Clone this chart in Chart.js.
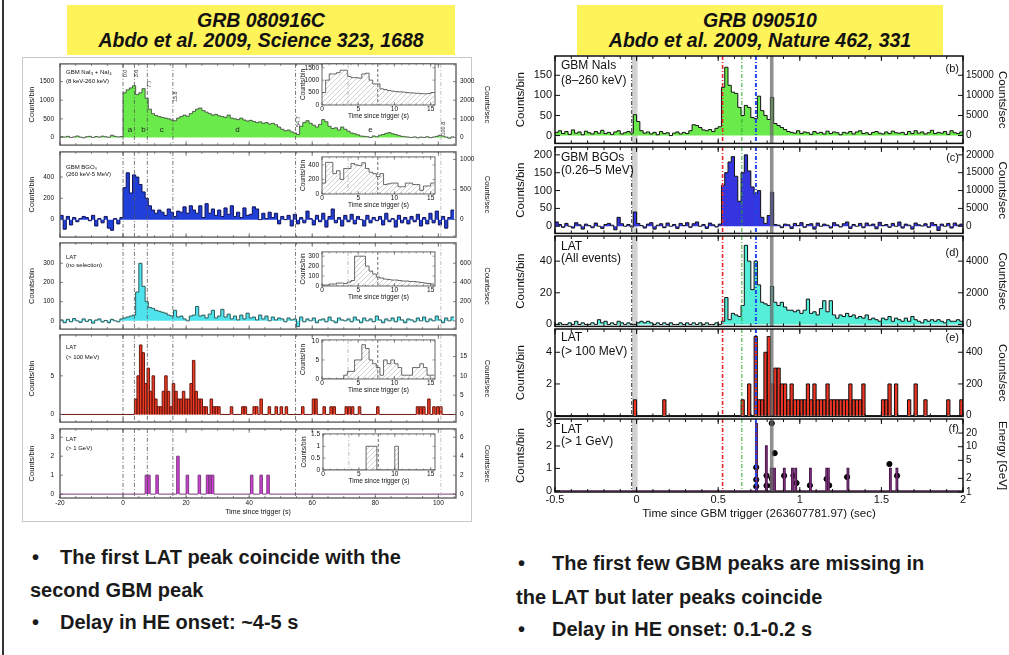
<!DOCTYPE html>
<html>
<head>
<meta charset="utf-8">
<script src="https://cdn.jsdelivr.net/npm/chart.js@4.4.0/dist/chart.umd.min.js"></script>
<style>
body{margin:0;width:1009px;height:655px;overflow:hidden;background:#fff;position:relative;font-family:'Liberation Sans',Arial,sans-serif}
canvas{position:absolute}
.box{position:absolute;background:#fff35a;text-align:center;font:italic bold 19.5px 'Liberation Sans Narrow','Liberation Sans',Arial,sans-serif;color:#111;line-height:20px;padding-top:5px;box-sizing:border-box}
.txt{position:absolute;font:bold 20px 'Liberation Sans',Arial,sans-serif;color:#1a1a1a;white-space:nowrap;line-height:24px}
</style>
</head>
<body>
<div style="position:absolute;left:2px;top:0;width:2px;height:655px;background:#333"></div>
<div style="position:absolute;left:22px;top:57px;width:448px;height:463px;border:1px solid #c8c8c8"></div>
<div class="box" style="left:67px;top:5px;width:388px;height:50px">GRB 080916C<br>Abdo et al. 2009, Science 323, 1688</div>
<div class="box" style="left:577px;top:5px;width:366px;height:50px">GRB 090510<br>Abdo et al. 2009, Nature 462, 331</div>

<div class="txt" style="left:32px;top:545px">•</div>
<div class="txt" style="left:60px;top:545px">The first LAT peak coincide with the</div>
<div class="txt" style="left:30px;top:578px">second GBM peak</div>
<div class="txt" style="left:32px;top:610px">•</div>
<div class="txt" style="left:60px;top:610px">Delay in HE onset: ~4-5 s</div>

<div class="txt" style="left:518px;top:551px">•</div>
<div class="txt" style="left:552px;top:551px">The first few GBM peaks are missing in</div>
<div class="txt" style="left:516px;top:585px">the LAT but later peaks coincide</div>
<div class="txt" style="left:518px;top:617px">•</div>
<div class="txt" style="left:552px;top:617px">Delay in HE onset: 0.1-0.2 s</div>

<script>
// ---------- GRB 080916C : 1 s bins starting at -20 s ----------
const leftT0 = -20, leftBin = 1;
const naiLeft = [20,10,30,0,15,40,10,-10,20,30,0,25,10,35,20,5,60,30,15,25,
  1200,1280,1330,1390,1150,1200,1310,1050,760,640,590,560,540,520,500,470,
  450,520,560,600,570,640,700,760,790,720,680,640,600,620,580,
  560,540,600,520,500,480,520,470,440,460,430,400,420,380,400,360,380,340,280,220,
  180,200,150,120,80,300,400,450,380,330,280,350,480,420,300,240,260,200,280,220,
  170,120,100,70,40,30,20,0,40,20,60,80,110,130,100,80,50,30,20,10,
  0,15,-10,10,0,20,-5,10,30,60,40,10,-20,15];
const bgoLeft = [40,-90,30,-50,20,-20,10,30,20,-10,40,-60,10,-30,30,-80,-100,10,-40,20,
  300,440,250,420,400,330,260,200,130,90,60,90,70,40,100,70,
  30,80,70,120,60,130,90,60,130,20,150,60,100,40,90,
  30,110,50,130,30,70,20,110,40,50,120,100,0,60,10,70,20,60,-40,30,
  0,40,-60,50,-40,20,-30,80,10,-50,40,-20,60,-70,30,100,-30,20,-60,40,
  -20,50,-40,30,0,-60,40,-30,20,-10,30,-50,60,-20,10,-70,40,-30,20,-40,
  30,-20,50,-60,20,-40,60,-30,80,-50,30,-80,20,90];
const latLeft = [5,-10,8,-5,12,0,-8,10,-3,6,-12,4,10,-6,2,-10,8,0,-5,10,
  15,20,25,30,150,300,180,100,70,65,55,50,45,40,30,25,
  55,20,25,10,0,25,30,75,25,30,15,35,55,15,25,
  60,20,35,10,25,5,30,10,40,15,20,5,30,10,25,0,20,5,15,10,
  -5,15,5,10,-30,20,-5,10,0,15,-10,5,10,-5,20,0,-10,15,5,0,
  10,-5,20,5,-10,15,0,10,-5,25,5,-10,10,0,15,-5,20,5,-10,10,
  5,-5,15,0,20,-5,10,0,25,5,-10,15,0,20];
// LAT > 100 MeV and > 1 GeV: bin start (s) and counts, 0.8 s bins
const evBin = 0.8;
const lat100T = [3.6,4.4,5.2,6.0,6.8,7.6,8.4,9.2,10.0,10.8,11.6,12.4,13.2,14.0,14.8,15.6,16.4,17.2,18.0,18.8,
  19.6,20.4,21.2,22.0,22.8,23.6,24.4,25.2,26.0,27.6,28.4,29.2,30.0,34.0,37.6,38.4,41.2,42.0,43.4,46.0,
  48.2,49.8,51.4,56.6,60.0,60.8,63.4,65.6,66.6,70.4,71.4,72.4,74.6,80.4,93.0,94.0,95.0,96.6,98.2,99.4,100.4];
const lat100N = [2,5,9,8,4,6,3,5,2,1,1,3,5,3,1,4,3,2,2,3,
  2,2,4,7,3,2,2,1,1,2,1,1,1,1,1,1,1,1,2,1,
  1,1,1,1,2,2,1,1,1,1,1,1,1,1,1,1,1,2,1,1,1];
const lat1gT = [7.0,7.8,10.4,17.0,20.0,23.8,26.4,27.2,28.0,40.4,43.4,45.6];
const lat1gN = [1,1,1,2,1,1,1,1,1,1,1,1];
// insets: 0.5 s bins from 0 s
const insBin = 0.5;
const insNai = [500,1000,1250,1250,1300,1400,1400,1150,1100,1100,1080,1250,1280,1000,850,850,650,620,580,560,540,530,520,500,490,480,470,460,450,460,500];
const insBgo = [150,435,435,280,320,200,350,350,420,400,390,430,350,300,280,240,280,130,140,150,150,100,100,150,150,130,130,50,110,110,150];
const insLat = [10,10,20,20,30,30,25,40,55,300,300,300,200,150,120,90,80,70,65,60,60,55,50,50,45,45,40,35,30,25,20];
const insLat100 = [0,0,0,0,0,0,1,2,2,5,5,9,8,5,4,3,1,5,4,5,4,3,1,1,1,3,3,4,3,1,1];
const insLat1g = [0,0,0,0,0,0,0,0,0,0,0,0,1,1,1,0,0,0,0,0,1,0,0,0,0,0,0,0,0,0,0];
const leftMarkT = [0, 3.6, 7.7, 15.8, 54.7];
const leftFaintT = 100.8;
const markNames = ['0.0','3.6','7.7','15.8','54.7','100.8'];
const markNameT = [0, 3.6, 7.7, 15.8, 54.7, 100.8];
const markNameY = [1615, 1615, 1333, 949, 282, 51];
const periodNames = ['a','b','c','d','e'];
const periodT = [2.2, 6.5, 12.3, 36.3, 78.5];

// ---------- GRB 090510 : 0.02 s bins starting at -0.5 s ----------
const rightT0 = -0.5, rightBin = 0.02;
const naiRight = [8,12,5,10,3,14,6,9,2,11,7,4,10,6,13,5,8,3,9,12,4,7,10,6,
  52,35,12,
  6,9,4,8,2,10,5,7,0,6,9,4,8,5,
  12,27,25,20,14,12,15,10,18,22,
  120,170,125,108,105,70,50,75,70,45,42,98,62,50,40,95,30,25,20,15,
  10,8,6,12,5,9,7,3,10,6,8,4,11,5,9,7,2,8,6,10,4,9,12,5,7,3,8,10,6,4,9,5,11,7,6,8,3,10,5,12,6,9,4,7,13,5,8,6,10,3,12,7,5,9];
const bgoRight = [12,5,-3,8,0,-5,10,4,-8,6,2,-4,9,0,-6,5,8,3,-10,25,7,0,5,-2,
  40,8,2,
  -5,6,10,-8,3,7,-4,9,0,5,-6,8,2,10,
  -3,7,12,0,5,-6,9,4,-2,6,
  115,150,180,195,140,70,150,200,155,110,90,100,25,8,30,95,5,3,-4,6,
  4,-6,8,2,10,-3,5,7,-8,9,0,6,3,-5,10,4,-2,7,12,-6,5,0,8,-4,9,3,6,-7,11,2,5,-3,8,0,12,-5,6,3,-8,9,4,1,7,-3,10,5,-12,6,0,8,-5,9,3,6];
const latRight = [0,1,0,0,1,0,2,0,1,0,0,1,0,3,1,2,0,1,0,2,1,0,1,0,
  0,1,2,
  1,2,1,0,1,0,1,0,1,0,0,1,0,1,
  0,1,0,1,0,1,0,0,1,0,
  2,17,3,7,6,5,12,50,40,22,40,25,14,13,12,24,14,12,14,11,
  9,9,8,9,7,9,16,7,8,6,10,15,8,15,6,4,6,5,7,5,6,4,5,4,6,3,4,3,2,4,3,5,2,4,3,2,4,2,5,3,2,1,3,2,3,2,3,2,1,3,2,2,3,2];
const rHeT = [-0.02,0.16,0.64,0.68,0.72,0.74,0.76,0.78,0.80,0.82,0.84,0.86,0.88,0.90,0.92,0.94,0.96,0.98,1.00,1.02,
  1.04,1.06,1.08,1.10,1.12,1.14,1.16,1.18,1.20,1.22,1.24,1.26,1.28,1.30,1.32,1.34,1.36,1.38,1.50,1.52,
  1.54,1.58,1.66,1.70,1.76,1.90,1.98];
const rHeN = [1,1,1,2,5,1,1,4,5,2,3,3,2,2,1,2,1,1,1,1,
  2,1,2,1,1,1,2,1,1,1,1,1,1,2,1,1,1,2,1,1,
  2,2,1,2,1,1,1];
const rGevBin = 0.01;
const rGevT = [0.73,0.79,0.82,0.83,0.84,0.90,0.95,0.97,1.06,1.16,1.17,1.29,1.55,1.59];
const rGevN = [3,2,1,1,1,1,1,1,1,1,1,1,1,1];
const photonT = [0.733,0.733,0.733,0.796,0.796,0.828,0.828,0.828,0.846,0.904,0.961,0.98,1.062,1.164,1.18,1.29,1.549,1.596];
const photonE = [3.5,1.87,1.33,2.29,1.38,33,1.97,1.38,7.2,2.29,2.3,1.58,1.4,1.94,1.4,2.14,4.15,2.29];

const FONT = "'Liberation Sans', Arial, sans-serif";
Chart.defaults.font.family = FONT;
Chart.defaults.color = '#111';
const DD = [4, 2, 1, 2];

// histogram points, value holds from bin start to next point
function hist(t0, w, vals) {
  const pts = vals.map((v, i) => ({x: t0 + i * w, y: v}));
  pts.push({x: t0 + vals.length * w, y: vals[vals.length - 1]});
  return pts;
}
function events(ts, ns, w, xmin, xmax) {
  const pts = [{x: xmin, y: 0}];
  ts.forEach((t, i) => { pts.push({x: t, y: ns[i]}, {x: t + w, y: 0}); });
  pts.push({x: xmax, y: 0});
  return pts;
}
function hd(pts, fill, line, w) {
  return {data: pts, stepped: true, fill: 'origin', backgroundColor: fill, borderColor: line, borderWidth: w, pointRadius: 0};
}

const hatch = (() => {
  const c = document.createElement('canvas'); c.width = 5; c.height = 5;
  const g = c.getContext('2d');
  g.strokeStyle = '#c4c4c4'; g.lineWidth = 0.8;
  g.beginPath(); g.moveTo(0, 5); g.lineTo(5, 0); g.stroke();
  return g.createPattern(c, 'repeat');
})();

// frame, inner ticks, marker lines, bands and labels
const deco = {
  id: 'deco',
  beforeDatasetsDraw(ch, a, o) {
    const ctx = ch.ctx, ca = ch.chartArea, sx = ch.scales.x;
    ctx.save();
    if (o.bg) { ctx.fillStyle = o.bg; ctx.fillRect(ca.left, ca.top, ca.width, ca.height); }
    (o.bands || []).filter(b => !b.front).forEach(b => {
      const p0 = sx.getPixelForValue(b.x0), p1 = sx.getPixelForValue(b.x1);
      ctx.fillStyle = b.color; ctx.fillRect(p0, ca.top, p1 - p0, ca.height);
    });
    ctx.restore();
  },
  afterDatasetsDraw(ch, a, o) {
    const ctx = ch.ctx, ca = ch.chartArea, sx = ch.scales.x, sy = ch.scales.y;
    ctx.save();
    ctx.beginPath(); ctx.rect(ca.left, ca.top, ca.width, ca.height); ctx.clip();
    (o.bands || []).filter(b => b.front).forEach(b => {
      const p0 = sx.getPixelForValue(b.x0), p1 = sx.getPixelForValue(b.x1);
      ctx.fillStyle = b.color; ctx.fillRect(p0, ca.top, p1 - p0, ca.height);
    });
    (o.lines || []).forEach(l => {
      const p = sx.getPixelForValue(l.x);
      ctx.strokeStyle = l.color; ctx.lineWidth = l.width; ctx.setLineDash(l.dash || []);
      ctx.beginPath(); ctx.moveTo(p, ca.top); ctx.lineTo(p, ca.bottom); ctx.stroke();
    });
    ctx.setLineDash([]);
    (o.texts || []).forEach(tx => {
      let px, py;
      if (tx.t !== undefined) { px = sx.getPixelForValue(tx.t) + (tx.ox || 0); py = sy.getPixelForValue(tx.v); }
      else { px = tx.right ? ca.right - tx.dx : ca.left + tx.dx; py = ca.top + tx.dy; }
      ctx.font = (tx.weight || 'normal') + ' ' + tx.size + 'px ' + FONT;
      ctx.fillStyle = tx.color || '#111';
      ctx.textAlign = tx.align || 'left'; ctx.textBaseline = 'middle';
      if (tx.rot) { ctx.save(); ctx.translate(px, py); ctx.rotate(-Math.PI / 2); ctx.fillText(tx.text, 0, 0); ctx.restore(); }
      else ctx.fillText(tx.text, px, py);
    });
    ctx.restore();
    // frame and inward ticks
    const f = o.frame;
    ctx.save();
    ctx.strokeStyle = f.color; ctx.lineWidth = f.width;
    ctx.strokeRect(ca.left, ca.top, ca.width, ca.height);
    ctx.lineWidth = f.tickWidth || 0.8;
    ctx.beginPath();
    (f.xSteps || []).forEach(([step, len]) => {
      const i0 = Math.ceil(sx.min / step - 1e-6), i1 = Math.floor(sx.max / step + 1e-6);
      for (let i = i0; i <= i1; i++) {
        const p = sx.getPixelForValue(i * step);
        ctx.moveTo(p, ca.bottom); ctx.lineTo(p, ca.bottom - len);
        ctx.moveTo(p, ca.top); ctx.lineTo(p, ca.top + len);
      }
    });
    if (f.yLen) {
      sy.ticks.forEach(t => { const p = sy.getPixelForValue(t.value); ctx.moveTo(ca.left, p); ctx.lineTo(ca.left + f.yLen, p); });
      const s2 = ch.scales.y2 || sy;
      s2.ticks.forEach(t => { const p = s2.getPixelForValue(t.value); ctx.moveTo(ca.right, p); ctx.lineTo(ca.right - f.yLen, p); });
    }
    ctx.stroke();
    ctx.restore();
  }
};
Chart.register(deco);

function panel(o) {
  const [x0, y0, x1, y1] = o.area;
  const lw = o.lw, rw = o.rw || 0, tp = o.tp || 10, bh = o.bh || 10, pr = o.pr || 0;
  const W = x1 - x0 + lw + rw + pr, H = y1 - y0 + tp + bh;
  const cv = document.createElement('canvas');
  cv.width = W; cv.height = H;
  cv.style.left = (x0 - lw) + 'px'; cv.style.top = (y0 - tp) + 'px';
  cv.style.width = W + 'px'; cv.style.height = H + 'px';
  document.body.appendChild(cv);
  const fix = vals => s => { s.ticks = vals.map(v => ({value: v})); };
  const tf = {size: o.fs};
  const noGrid = {display: false, drawTicks: false};
  const scales = {
    x: {type: 'linear', position: 'bottom', min: o.x[0], max: o.x[1],
      grid: noGrid, border: {display: false},
      afterBuildTicks: fix(o.xt), afterFit: s => { s.height = bh; },
      ticks: {display: !!o.xlab, font: tf, padding: o.xpad || 1, maxRotation: 0, autoSkip: false, color: '#111', callback: v => String(v)},
      title: o.xtitle ? {display: true, text: o.xtitle, font: {size: o.xts}, color: '#111', padding: {top: 0, bottom: o.xtp}} : {display: false}},
    y: {type: 'linear', position: 'left', min: o.y[0], max: o.y[1],
      grid: noGrid, border: {display: false},
      afterBuildTicks: fix(o.yt), afterFit: s => { s.width = lw; },
      ticks: {font: tf, padding: o.ypad || 3, autoSkip: false, color: '#111', callback: v => String(v)},
      title: {display: !!o.ytitle, text: o.ytitle, font: {size: o.yts}, color: '#111', padding: {top: o.ytp, bottom: 0}}}
  };
  if (o.y2) {
    scales.y2 = {type: o.y2.type || 'linear', position: 'right', min: o.y2.range[0], max: o.y2.range[1],
      grid: noGrid, border: {display: false},
      afterBuildTicks: fix(o.y2.ticks), afterFit: s => { s.width = rw; },
      ticks: {font: {size: o.fs2 || o.fs}, padding: o.y2pad || 3, autoSkip: false, color: '#111', callback: v => String(v)},
      title: {display: true, text: o.y2.title, font: {size: o.yts}, color: '#111', padding: {top: o.y2tp, bottom: 0}}};
  }
  return new Chart(cv, {
    type: 'line',
    data: {datasets: o.ds},
    options: {
      responsive: false, animation: false, events: [],
      layout: {padding: {top: tp, right: pr, left: 0, bottom: 0}},
      plugins: {legend: {display: false}, tooltip: {enabled: false}, deco: o.deco},
      scales
    }
  });
}

// ---------- left figure ----------
const LX = [-20, 105.6];
const leftLines = leftMarkT.map(t => ({x: t, color: '#555', width: 0.8, dash: DD}))
  .concat([{x: leftFaintT, color: '#b0b0b0', width: 0.8, dash: DD}]);
const leftFrame = {color: '#555', width: 1.3, tickWidth: 0.7, xSteps: [[5, 2], [20, 4]], yLen: 3};
function leftPanel(area, yr, yt, k, y2t, ds, texts, last) {
  return panel({area, lw: 40, rw: 36, tp: 8, bh: last ? 22 : 8, fs: 6.5,
    x: LX, xt: [-20, 0, 20, 40, 60, 80, 100], xlab: last, xpad: 1, xtitle: last ? 'Time since trigger (s)' : null, xts: 7, xtp: 3.5,
    y: yr, yt, ypad: 6, ytitle: 'Counts/bin', yts: 7.5, ytp: 7.5,
    y2: {range: [yr[0] * k, yr[1] * k], ticks: y2t, title: 'Counts/sec'}, y2pad: 4, y2tp: 0.5,
    ds, deco: {lines: leftLines, texts, frame: leftFrame}});
}
const lab = (dx, dy, text, size) => ({dx, dy, text, size: size || 6});

leftPanel([60, 62, 456, 147], [-205, 1975], [0, 500, 1000, 1500], 2, [0, 1000, 2000, 3000],
  [hd(hist(leftT0, leftBin, naiLeft), '#6BEA4B', '#3a3a3a', 0.8)],
  [lab(6, 8, 'GBM NaI₃ + NaI₄'), lab(6, 17, '(8 keV-260 keV)')]
    .concat(markNames.map((n, i) => ({t: markNameT[i], v: markNameY[i], ox: 2.5, text: n, size: 5.5, rot: true, align: 'left', color: '#333'})))
    .concat(periodNames.map((n, i) => ({t: periodT[i], v: 205, text: n, size: 8, align: 'center', color: '#222'}))), false);
leftPanel([60, 150, 456, 239], [-164, 636], [0, 200, 400], 1.77, [0, 500, 1000],
  [hd(hist(leftT0, leftBin, bgoLeft), '#1F3FD8', '#101058', 1)],
  [lab(6, 15, 'GBM BGO₀'), lab(6, 22, '(260 keV-5 MeV)')], false);
leftPanel([60, 241, 456, 331], [-43, 406], [0, 100, 200, 300], 2, [0, 200, 400, 600],
  [hd(hist(leftT0, leftBin, latLeft), '#4FE3EE', '#2c5a5a', 1)],
  [lab(6, 14, 'LAT'), lab(6, 22, '(no selection)')], false);
leftPanel([60, 333, 456, 424], [-0.99, 10.3], [0, 5], 2, [0, 5, 10, 15],
  [hd(events(lat100T, lat100N, evBin, -20, 105.6), '#EE3A22', '#6b1a12', 1)],
  [lab(6, 12, 'LAT'), lab(6, 22, '(> 100 MeV)')], false);
leftPanel([60, 427, 456, 498], [-0.205, 3.44], [0, 1, 2, 3], 2, [0, 2, 4, 6],
  [hd(events(lat1gT, lat1gN, evBin, -20, 105.6), '#D040D8', '#7a3a7a', 1)],
  [lab(6, 10, 'LAT'), lab(6, 19, '(> 1 GeV)')], true);

// insets
const insLines = [{x: 3.6, color: '#aaa', width: 0.8, dash: DD}, {x: 7.7, color: '#444', width: 0.8, dash: [3, 2]}];
function inset(area, ymax, yt, vals) {
  return panel({area, lw: 24, rw: 0, pr: 4, tp: 6, bh: 20, fs: 6.5,
    x: [0, 15.6], xt: [0, 5, 10, 15], xlab: true, xpad: 0.5, xtitle: 'Time since trigger (s)', xts: 6.5, xtp: 5,
    y: [0, ymax], yt, ypad: 3, ytitle: 'Counts/bin', yts: 6.5, ytp: 1.2,
    ds: [hd(hist(0, insBin, vals), hatch, '#444', 0.8)],
    deco: {bg: '#fff', lines: insLines, frame: {color: '#555', width: 0.9, tickWidth: 0.6, xSteps: [[1, 1.5], [5, 3]], yLen: 2.5}}});
}
inset([322, 63, 435, 105], 1654, [0, 500, 1000, 1500], insNai);
inset([322, 156, 435, 194], 510, [0, 200, 400], insBgo);
inset([322, 251, 435, 286], 343, [0, 100, 200, 300], insLat);
inset([322, 339, 435, 379], 10.26, [0, 5, 10], insLat100);
inset([323, 433, 435, 470], 1.52, [0, 0.5, 1, 1.5], insLat1g);

// ---------- right figure ----------
const RX = [-0.5, 2];
const rightBands = [{x0: -0.028, x1: 0.006, color: '#d2d2d2'}, {x0: 0.817, x1: 0.839, color: 'rgba(105,105,105,0.75)', front: true}];
const rightLines = [
  {x: -0.03, color: '#333', width: 1, dash: DD},
  {x: 0.527, color: '#e8282a', width: 1.6, dash: DD},
  {x: 0.645, color: '#2aa82a', width: 1, dash: DD},
  {x: 0.731, color: '#2244ee', width: 2, dash: DD}];
const rightFrame = {color: '#111', width: 1.5, tickWidth: 1, xSteps: [[0.1, 3], [0.5, 5]], yLen: 5};
function rightPanel(area, yr, yt, y2, ds, texts, last) {
  return panel({area, lw: 46, rw: 46, tp: 10, bh: last ? 30 : 8, fs: 11, fs2: 10,
    x: RX, xt: [-0.5, 0, 0.5, 1, 1.5, 2], xlab: last, xpad: 1,
    xtitle: last ? 'Time since GBM trigger (263607781.97) (sec)' : null, xts: 11.5, xtp: 1,
    y: yr, yt, ypad: 3, ytitle: 'Counts/bin', yts: 11.5, ytp: 4.5,
    y2, y2pad: 3, y2tp: 0,
    ds, deco: {bands: rightBands, lines: rightLines, texts, frame: rightFrame}});
}
const rl = (dy1, t1, dy2, t2, tag, dyt) => [
  {dx: 6, dy: dy1, text: t1, size: 12}, {dx: 6, dy: dy2, text: t2, size: 12},
  {dx: 4, dy: dyt, text: tag, size: 11, right: true, align: 'right'}];

rightPanel([555, 56, 963, 145], [-19.5, 198], [0, 50, 100, 150],
  {range: [-1950, 19800], ticks: [0, 5000, 10000, 15000], title: 'Counts/sec'},
  [hd(hist(rightT0, rightBin, naiRight), '#6BEA4B', '#111', 1)],
  rl(10, 'GBM NaIs', 25, '(8–260 keV)', '(b)', 13), false);
rightPanel([555, 147, 963, 235], [-20, 222], [0, 50, 100, 150, 200],
  {range: [-2000, 22200], ticks: [0, 5000, 10000, 15000, 20000], title: 'Counts/sec'},
  [hd(hist(rightT0, rightBin, bgoRight), '#3535E0', '#111', 1)],
  rl(11, 'GBM BGOs', 24, '(0.26–5 MeV)', '(c)', 11), false);
rightPanel([555, 236, 963, 328], [-1.24, 55.9], [0, 20, 40],
  {range: [-124, 5590], ticks: [0, 2000, 4000], title: 'Counts/sec'},
  [hd(hist(rightT0, rightBin, latRight), '#55EED8', '#111', 1)],
  rl(11, 'LAT', 23, '(All events)', '(d)', 17), false);
rightPanel([555, 329, 963, 418], [-0.05, 5.47], [0, 2, 4],
  {range: [-5, 547], ticks: [0, 200, 400], title: 'Counts/sec'},
  [hd(events(rHeT, rHeN, rightBin, -0.5, 2), '#EE3322', '#111', 1)],
  rl(9, 'LAT', 23, '(> 100 MeV)', '(e)', 9), false);
rightPanel([555, 419, 963, 492], [-0.05, 3.2], [0, 1, 2, 3],
  {type: 'logarithmic', range: [1, 40.9], ticks: [1, 2, 5, 10, 20], title: 'Energy [GeV]'},
  [hd(events(rGevT, rGevN, rGevBin, -0.5, 2), '#B845B8', '#4a1a4a', 1.2),
   {type: 'scatter', yAxisID: 'y2', data: photonT.map((t, i) => ({x: t, y: photonE[i]})),
    pointRadius: 2.6, pointBackgroundColor: '#000', pointBorderColor: '#000', showLine: false}],
  rl(11, 'LAT', 23, '(> 1 GeV)', '(f)', 10), true);
</script>
</body>
</html>
